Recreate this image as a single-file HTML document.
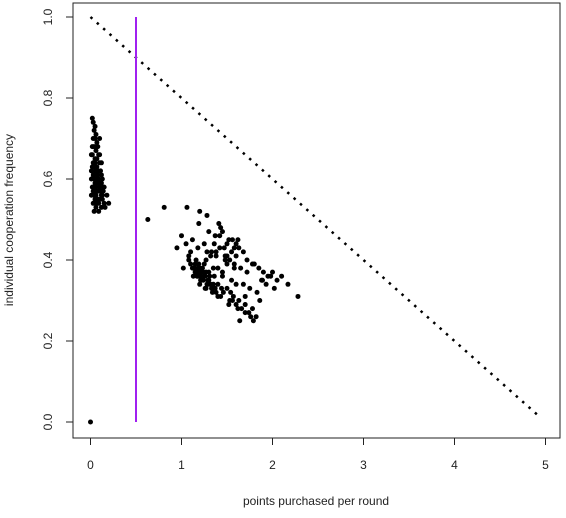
<!DOCTYPE html>
<html><head><meta charset="utf-8"><style>
body{margin:0;background:#fff;}
svg text{font-family:"Liberation Sans",sans-serif;font-size:12px;fill:#222;}
</style></head><body>
<svg id="chart" width="566" height="513">
<rect x="73" y="3" width="487" height="435" fill="none" stroke="#222"/>
<g id="axes"></g>
<g id="marks"></g>
<text x="316" y="505" text-anchor="middle">points purchased per round</text>
<text transform="translate(13,220) rotate(-90)" text-anchor="middle">individual cooperation frequency</text>
</svg>
<script>
const xTicks=[0,1,2,3,4,5];
const yTicks=[0,0.2,0.4,0.6,0.8,1.0];
const yTickLabels=["0.0","0.2","0.4","0.6","0.8","1.0"];
const thresholdX=0.5;
const diagStart=[0,1.0];
const diagEnd=[4.95,0.01];
const leftX=[0.02,0.03,0.05,0.04,0.06,0.03,0.05,0.07,0.04,0.08,0.06,0.02,0.09,0.05,0.07,0.03,0.1,0.06,0.04,0.08,0.05,0.11,0.07,0.03,0.06,0.09,0.04,0.12,0.05,0.08,0.06,0.03,0.1,0.07,0.05,0.09,0.04,0.13,0.06,0.08,0.05,0.11,0.07,0.03,0.09,0.06,0.12,0.04,0.08,0.1,0.05,0.07,0.15,0.11,0.18,0.13,0.2,0.16,0.09,0.12,0.07,0.14,0.0,0.01,0.02,0.01,0.02,0.01,0.1,0.12,0.09,0.11,0.13,0.1,0.08,0.14,0.12,0.15,0.02,0.01,0.03];
const leftY=[0.75,0.74,0.73,0.72,0.71,0.7,0.7,0.69,0.68,0.68,0.67,0.66,0.66,0.65,0.65,0.64,0.64,0.63,0.63,0.62,0.62,0.62,0.61,0.61,0.6,0.6,0.6,0.59,0.59,0.59,0.58,0.58,0.58,0.57,0.57,0.57,0.56,0.56,0.56,0.55,0.55,0.55,0.54,0.54,0.54,0.53,0.53,0.52,0.62,0.66,0.64,0.6,0.58,0.57,0.56,0.55,0.54,0.53,0.52,0.61,0.63,0.57,0.0,0.66,0.63,0.6,0.58,0.56,0.7,0.64,0.59,0.57,0.6,0.55,0.61,0.58,0.56,0.54,0.68,0.62,0.57];
const rightX=[0.63,0.81,1.06,1.2,1.28,1.19,1.41,1.3,1.37,1.45,1.52,1.0,1.05,1.12,0.95,1.1,1.18,1.25,1.33,1.42,1.5,1.55,1.6,1.48,1.38,1.27,1.15,1.08,1.2,1.3,1.4,1.58,1.65,1.72,1.78,1.85,1.9,1.95,2.0,2.05,2.1,2.17,2.28,1.12,1.15,1.18,1.2,1.22,1.25,1.28,1.3,1.33,1.35,1.38,1.1,1.14,1.17,1.21,1.24,1.27,1.31,1.34,1.37,1.4,1.43,1.46,1.5,1.53,1.57,1.6,1.63,1.66,1.7,1.74,1.78,1.82,1.86,1.64,1.7,1.76,1.79,1.68,1.55,1.45,1.35,1.25,1.5,1.58,1.62,1.68,1.72,1.8,1.88,1.93,1.98,2.02,1.52,1.56,1.62,1.43,1.47,1.36,1.32,1.28,1.16,1.08,1.02,1.2,1.26,1.4,1.44,1.54,1.6,1.7,1.75,1.83,1.89,1.45,1.5,1.38,1.22,1.13,1.14,1.17,1.19,1.23,1.26,1.29,1.32,1.21,1.24,1.18,1.27,1.3,1.34,1.36,1.56,1.6,1.63,1.53,1.58,1.48,1.42];
const rightY=[0.5,0.53,0.53,0.52,0.51,0.49,0.49,0.47,0.46,0.47,0.45,0.46,0.44,0.45,0.43,0.42,0.43,0.44,0.42,0.43,0.44,0.42,0.41,0.4,0.41,0.4,0.39,0.4,0.38,0.37,0.38,0.39,0.38,0.37,0.39,0.38,0.37,0.36,0.37,0.35,0.36,0.34,0.31,0.38,0.37,0.36,0.37,0.35,0.36,0.34,0.35,0.33,0.34,0.32,0.39,0.38,0.36,0.35,0.37,0.33,0.36,0.32,0.33,0.34,0.31,0.32,0.33,0.3,0.31,0.29,0.3,0.28,0.29,0.27,0.28,0.26,0.3,0.25,0.27,0.26,0.25,0.34,0.35,0.36,0.38,0.39,0.41,0.43,0.45,0.42,0.4,0.39,0.35,0.34,0.36,0.33,0.29,0.3,0.28,0.48,0.43,0.44,0.41,0.42,0.4,0.41,0.38,0.34,0.33,0.31,0.33,0.32,0.34,0.31,0.33,0.32,0.35,0.37,0.39,0.42,0.37,0.36,0.38,0.37,0.39,0.38,0.36,0.35,0.34,0.36,0.35,0.38,0.37,0.34,0.33,0.36,0.45,0.44,0.43,0.4,0.38,0.41,0.46];
const X=v=>90.5+91*v, Y=v=>422-405*v;
const NS="http://www.w3.org/2000/svg";
const axes=document.getElementById('axes'), marks=document.getElementById('marks');
function mk(tag,attrs,parent){const e=document.createElementNS(NS,tag);for(const k in attrs)e.setAttribute(k,attrs[k]);parent.appendChild(e);return e;}
xTicks.forEach(t=>{
  const l=mk('line',{x1:X(t),x2:X(t),y1:438,y2:445,stroke:'#222'},axes);
  
  
  const tx=mk('text',{x:X(t),y:469,'text-anchor':'middle'},axes);tx.textContent=t;
  
  
});
yTicks.forEach((t,i)=>{
  const l=mk('line',{x1:66,x2:73,y1:Y(t),y2:Y(t),stroke:'#222'},axes);
  
  
  const tx=mk('text',{transform:`translate(52,${Y(t)}) rotate(-90)`,'text-anchor':'middle'},axes);tx.textContent=yTickLabels[i];
  
  
});
const d=mk('line',{x1:X(diagStart[0]),y1:Y(diagStart[1]),x2:X(diagEnd[0]),y2:Y(diagEnd[1]),stroke:'#000','stroke-width':2.5,'stroke-dasharray':'2.5 6'},marks);


const p=mk('line',{x1:X(thresholdX),x2:X(thresholdX),y1:Y(1),y2:Y(0),stroke:'#a020f0','stroke-width':2},marks);


function pts(xs,ys){const n=Math.min(xs.length,ys.length);for(let i=0;i<n;i++){
  const c=mk('circle',{cx:X(xs[i]),cy:Y(ys[i]),r:2.5,fill:'#000'},marks);
  
  
}}
pts(leftX,leftY);pts(rightX,rightY);
</script>
</body></html>
